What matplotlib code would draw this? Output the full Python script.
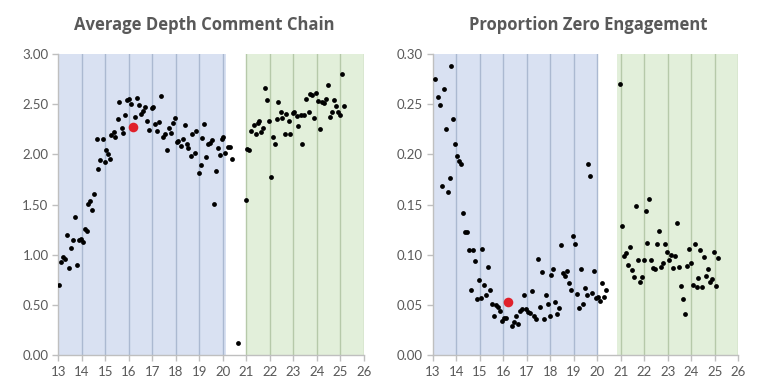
import matplotlib
matplotlib.use("Agg")
import matplotlib.pyplot as plt

# ---------------- data ----------------
depth_x = [13.02, 13.10, 13.19, 13.27, 13.36, 13.44, 13.53, 13.61, 13.70, 13.78, 13.87, 13.95,
           14.04, 14.12, 14.21, 14.28, 14.35, 14.45, 14.53, 14.63, 14.70, 14.79, 14.89, 14.97,
           15.04, 15.10, 15.19, 15.26, 15.36, 15.43, 15.53, 15.60, 15.70, 15.77, 15.85, 15.94,
           16.02, 16.11, 16.19, 16.28, 16.35, 16.43, 16.52, 16.60, 16.70, 16.77, 16.87, 16.97,
           17.04, 17.11, 17.20, 17.29, 17.37, 17.44, 17.53, 17.63, 17.70, 17.78, 17.87, 17.95,
           18.04, 18.11, 18.21, 18.29, 18.38, 18.46, 18.53, 18.63, 18.70, 18.80, 18.87, 18.97,
           19.06, 19.11, 19.19, 19.27, 19.36, 19.46, 19.54, 19.61, 19.70, 19.78, 19.87, 19.95,
           20.02, 20.11, 20.21, 20.29, 20.38, 20.63, 20.97,
           21.04, 21.13, 21.21, 21.31, 21.40, 21.49, 21.55, 21.64, 21.72, 21.81, 21.89, 21.98,
           22.06, 22.12, 22.21, 22.29, 22.36, 22.45, 22.53, 22.62, 22.70, 22.79, 22.87, 22.96,
           23.04, 23.13, 23.21, 23.30, 23.38, 23.46, 23.54, 23.64, 23.71, 23.80, 23.88, 23.97,
           24.05, 24.14, 24.22, 24.31, 24.39, 24.48, 24.56, 24.65, 24.73, 24.82, 24.90, 24.99,
           25.07, 25.16]
depth_y = [0.70, 0.93, 0.98, 0.96, 1.20, 0.87, 1.07, 1.15, 1.38, 0.90, 1.15, 1.16,
           1.13, 1.26, 1.24, 1.505, 1.535, 1.45, 1.60, 2.15, 1.855, 1.94, 2.15, 1.92,
           2.04, 2.00, 1.95, 2.19, 2.22, 2.17, 2.35, 2.52, 2.26, 2.21, 2.39, 2.54,
           2.55, 2.50, 2.27, 2.37, 2.56, 2.49, 2.40, 2.43, 2.47, 2.33, 2.24, 2.46,
           2.47, 2.30, 2.23, 2.32, 2.58, 2.17, 2.20, 2.04, 2.26, 2.21, 2.31, 2.36,
           2.12, 2.13, 2.08, 2.15, 2.29, 2.10, 2.06, 1.98, 2.20, 2.01, 2.23, 1.81,
           1.89, 2.16, 2.30, 1.97, 2.10, 2.11, 2.14, 1.505, 1.83, 2.06, 1.99, 2.15,
           2.17, 2.01, 2.07, 2.07, 1.95, 0.117, 1.545,
           2.05, 2.04, 2.23, 2.29, 2.20, 2.31, 2.33, 2.22, 2.26, 2.665, 2.54, 2.33,
           1.775, 2.17, 2.10, 2.35, 2.52, 2.42, 2.36, 2.20, 2.40, 2.33, 2.20, 2.41,
           2.42, 2.38, 2.28, 2.39, 2.10, 2.39, 2.555, 2.42, 2.605, 2.59, 2.36, 2.615,
           2.535, 2.25, 2.52, 2.51, 2.55, 2.69, 2.37, 2.42, 2.54, 2.48, 2.42, 2.39,
           2.80, 2.48]
depth_hl_x = [16.19]
depth_hl_y = [2.27]

zero_x = [13.11, 13.21, 13.30, 13.38, 13.47, 13.55, 13.64, 13.72, 13.79, 13.88, 13.96,
          14.05, 14.13, 14.22, 14.30, 14.39, 14.47, 14.56, 14.64, 14.73, 14.81, 14.90, 14.98,
          15.07, 15.11, 15.20, 15.28, 15.37, 15.45, 15.54, 15.62, 15.71, 15.79, 15.88, 15.96,
          16.05, 16.12, 16.20, 16.37, 16.46, 16.54, 16.63, 16.71, 16.80, 16.89, 16.97,
          17.06, 17.14, 17.23, 17.31, 17.40, 17.48, 17.57, 17.65, 17.74, 17.82, 17.91, 17.99,
          18.05, 18.13, 18.22, 18.30, 18.39, 18.47, 18.56, 18.64, 18.73, 18.81, 18.87, 18.97,
          19.06, 19.13, 19.21, 19.30, 19.38, 19.47, 19.55, 19.62, 19.71, 19.79, 19.86, 19.95,
          20.03, 20.12, 20.20, 20.29, 20.38, 20.97,
          21.04, 21.13, 21.21, 21.30, 21.38, 21.47, 21.55, 21.64, 21.72, 21.81, 21.89, 21.98,
          22.06, 22.12, 22.20, 22.29, 22.36, 22.45, 22.53, 22.62, 22.71, 22.80, 22.89, 22.97,
          23.04, 23.13, 23.21, 23.30, 23.38, 23.47, 23.55, 23.64, 23.72, 23.81, 23.89, 23.98,
          24.06, 24.15, 24.23, 24.30, 24.39, 24.47, 24.56, 24.64, 24.73, 24.81, 24.90, 24.98,
          25.06, 25.14]
zero_y = [0.2748, 0.2568, 0.2488, 0.1688, 0.2655, 0.2253, 0.1621, 0.1767, 0.2877, 0.2352, 0.2103,
          0.1983, 0.1937, 0.1904, 0.1412, 0.1229, 0.1229, 0.1050, 0.0645, 0.1050, 0.0937, 0.0558, 0.0748,
          0.0571, 0.1057, 0.0694, 0.0598, 0.0877, 0.0651, 0.0512, 0.0386, 0.0495, 0.0482, 0.0439, 0.0336,
          0.0366, 0.0372, 0.0525, 0.0289, 0.0329, 0.0392, 0.0309, 0.0439, 0.0458, 0.0601, 0.0458,
          0.0425, 0.0419, 0.0641, 0.0386, 0.0362, 0.0957, 0.0482, 0.0827, 0.0356, 0.0595, 0.0508, 0.0389,
          0.0794, 0.0854, 0.0531, 0.0405, 0.0471, 0.1100, 0.0814, 0.0784, 0.0834, 0.0721, 0.0648, 0.1183,
          0.1109, 0.0608, 0.0471, 0.0857, 0.0508, 0.0668, 0.0598, 0.1900, 0.1787, 0.0614, 0.0837, 0.0571,
          0.0581, 0.0538, 0.0714, 0.0581, 0.0648, 0.2701,
          0.1289, 0.0990, 0.1017, 0.0897, 0.1076, 0.0844, 0.0777, 0.1485, 0.0944, 0.0728, 0.0777, 0.0950,
          0.1432, 0.1116, 0.1558, 0.0944, 0.0870, 0.0857, 0.1109, 0.1236, 0.0877, 0.0917, 0.1109, 0.1023,
          0.0944, 0.0997, 0.0870, 0.0984, 0.1312, 0.0877, 0.0688, 0.0561, 0.0412, 0.0890, 0.1057, 0.0914,
          0.0694, 0.1103, 0.0674, 0.0767, 0.1043, 0.0681, 0.0977, 0.0787, 0.0854, 0.0728, 0.0754, 0.1023,
          0.0688, 0.0964]
zero_hl_x = [16.20]
zero_hl_y = [0.0525]

titles = ["Average Depth Comment Chain", "Proportion Zero Engagement"]
x_ticks = list(range(13, 27))
depth_yticks = [0.0, 0.5, 1.0, 1.5, 2.0, 2.5, 3.0]
zero_yticks = [0.0, 0.05, 0.10, 0.15, 0.20, 0.25, 0.30]

# shaded periods (start, end) per chart
depth_blue = (13.0, 20.15)
depth_green = (21.0, 26.2)
zero_blue = (13.0, 20.02)
zero_green = (20.83, 26.03)

# ---------------- style ----------------
BLUE = "#D9E1F2"
GREEN = "#E2EFDA"
BLUE_LINE = "#ABB9D1"
GREEN_LINE = "#B6C9A9"
TXT = "#595959"
AX = "#BFBFBF"

plt.rcParams["font.family"] = ["Lato", "DejaVu Sans"]

fig = plt.figure(figsize=(7.7, 3.88), dpi=100)

specs = [
    dict(rect=[58.3 / 770, 33 / 388, 305.7 / 770, 301 / 388], x=depth_x, y=depth_y,
         hx=depth_hl_x, hy=depth_hl_y, yt=depth_yticks, ymax=3.0, fmt="{:.2f}",
         blue=depth_blue, green=depth_green, title=titles[0], tx=0.478),
    dict(rect=[432.7 / 770, 33 / 388, 305.5 / 770, 301 / 388], x=zero_x, y=zero_y,
         hx=zero_hl_x, hy=zero_hl_y, yt=zero_yticks, ymax=0.30, fmt="{:.2f}",
         blue=zero_blue, green=zero_green, title=titles[1], tx=0.51),
]

for s in specs:
    ax = fig.add_axes(s["rect"])
    ax.set_xlim(13, 26)
    ax.set_ylim(0, s["ymax"])
    ax.axvspan(s["blue"][0], s["blue"][1], color=BLUE, lw=0, zorder=0)
    ax.axvspan(s["green"][0], s["green"][1], color=GREEN, lw=0, zorder=0)
    for t in x_ticks:
        if s["blue"][0] < t <= s["blue"][1] + 0.01:
            ax.axvline(t, color=BLUE_LINE, lw=1.0, zorder=1)
        elif s["green"][0] - 0.01 <= t <= s["green"][1]:
            ax.axvline(t, color=GREEN_LINE, lw=1.0, zorder=1)
    ax.scatter(s["x"], s["y"], s=12, color="black", zorder=3, linewidths=0)
    ax.scatter(s["hx"], s["hy"], s=48, color="#E0212B", zorder=4, linewidths=0)
    for side in ["top", "right"]:
        ax.spines[side].set_visible(False)
    for side in ["left", "bottom"]:
        ax.spines[side].set_color(AX)
        ax.spines[side].set_linewidth(1.0)
    ax.set_xticks(x_ticks)
    ax.set_xticklabels([str(t) for t in x_ticks])
    ax.set_yticks(s["yt"])
    ax.set_yticklabels([s["fmt"].format(v) for v in s["yt"]])
    ax.tick_params(axis="both", colors=AX, labelcolor=TXT, labelsize=9.5, length=4, width=1.0)
    ax.tick_params(axis="y", pad=3)
    ax.tick_params(axis="x", pad=4)
    ax.set_title(s["title"], fontsize=12, fontweight="bold", color=TXT,
                 family=["Open Sans", "DejaVu Sans"], pad=17, x=s["tx"])

fig.savefig("out.png", dpi=100, facecolor="white")
